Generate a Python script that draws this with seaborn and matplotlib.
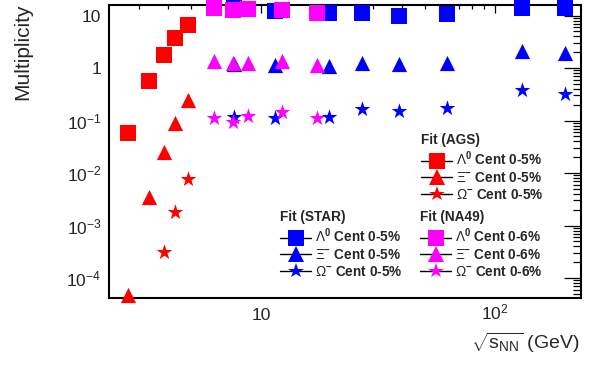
import numpy as np
import pandas as pd
import matplotlib
matplotlib.use("Agg")
import matplotlib.pyplot as plt
import seaborn as sns
from matplotlib.lines import Line2D
from matplotlib.ticker import FixedLocator, FixedFormatter, NullFormatter

# ---------------- data ----------------
ags_energy = [2.7, 3.32, 3.84, 4.3, 4.86]
ags_lambda = [0.058, 0.565, 1.77, 3.73, 6.6]
ags_xi = [4.8e-5, 0.0035, 0.0255, 0.0916, 0.251]
ags_omega_energy = [3.84, 4.3, 4.86]
ags_omega = [3.1e-4, 0.00183, 0.0077]

star_energy = [7.7, 11.5, 19.6, 27, 39, 62.4, 130, 200]
star_lambda = [15.2, 12.3, 11.0, 11.2, 9.8, 10.7, 14.2, 14.2]
star_xi = [1.19, 1.12, 1.09, 1.27, 1.19, 1.27, 2.11, 1.97]
star_omega = [0.117, 0.112, 0.117, 0.166, 0.152, 0.173, 0.381, 0.32]

na49_energy = [6.3, 7.6, 8.8, 12.3, 17.3]
na49_lambda = [13.9, 12.9, 13.4, 12.9, 11.3]
na49_xi = [1.36, 1.25, 1.27, 1.36, 1.12]
na49_omega = [0.112, 0.094, 0.122, 0.145, 0.112]

x_ticks = [10, 100]
x_ticklabels = ["10", r"$10^{2}$"]
y_ticks = [1e-4, 1e-3, 1e-2, 1e-1, 1, 10]
y_ticklabels = [r"$10^{-4}$", r"$10^{-3}$", r"$10^{-2}$", r"$10^{-1}$", "1", "10"]

# ---------------- style ----------------
sns.set_style("white")
plt.rcParams['font.family'] = ['Liberation Sans', 'DejaVu Sans']
plt.rcParams['mathtext.fontset'] = 'custom'
plt.rcParams['mathtext.rm'] = 'Liberation Sans'
plt.rcParams['mathtext.it'] = 'Liberation Sans:italic'
plt.rcParams['mathtext.bf'] = 'Liberation Sans:bold'

colors = {"AGS": "#ff0000", "STAR": "#0000ff", "NA49": "#ff00ff"}
markers = {"Lambda": "s", "Xi": "^", "Omega": "*"}
sizes = {"Lambda": 125, "Xi": 120, "Omega": 140}

records = []
def add(exp, particle, en, vals):
    for e, v in zip(en, vals):
        records.append({"experiment": exp, "particle": particle, "energy": e, "mult": v})

add("STAR", "Lambda", star_energy, star_lambda)
add("STAR", "Xi", star_energy, star_xi)
add("STAR", "Omega", star_energy, star_omega)
add("NA49", "Lambda", na49_energy, na49_lambda)
add("NA49", "Xi", na49_energy, na49_xi)
add("NA49", "Omega", na49_energy, na49_omega)
add("AGS", "Lambda", ags_energy, ags_lambda)
add("AGS", "Xi", ags_energy, ags_xi)
add("AGS", "Omega", ags_omega_energy, ags_omega)
df = pd.DataFrame(records)

W, H = 603, 367
fig = plt.figure(figsize=(W / 100, H / 100), dpi=100)
L, R, T, B = 109, 581, 5, 298
ax = fig.add_axes([L / W, (H - B) / H, (R - L) / W, (B - T) / H])
ax.set_xscale('log')
ax.set_yscale('log')

for exp in ["STAR", "NA49", "AGS"]:
    for particle in ["Lambda", "Xi", "Omega"]:
        sub = df[(df.experiment == exp) & (df.particle == particle)]
        sns.scatterplot(data=sub, x="energy", y="mult", marker=markers[particle],
                        color=colors[exp], s=sizes[particle], linewidth=0,
                        clip_on=False, zorder=5, ax=ax, legend=False)

ax.set_xlim(2.24, 233)
ax.set_ylim(4.16e-5, 15.85)
ax.set_xlabel("")
ax.set_ylabel("")

# ticks
ax.xaxis.set_major_locator(FixedLocator(x_ticks))
ax.xaxis.set_major_formatter(FixedFormatter(x_ticklabels))
xminor = [3, 4, 5, 6, 7, 8, 9, 20, 30, 40, 50, 60, 70, 80, 90, 200]
ax.xaxis.set_minor_locator(FixedLocator(xminor))
ax.xaxis.set_minor_formatter(NullFormatter())
ax.yaxis.set_major_locator(FixedLocator(y_ticks))
ax.yaxis.set_major_formatter(FixedFormatter(y_ticklabels))
yminor = [m * 10.0 ** d for d in range(-5, 2) for m in range(2, 10)]
ax.yaxis.set_minor_locator(FixedLocator(yminor))
ax.yaxis.set_minor_formatter(NullFormatter())

ax.tick_params(axis='both', which='both', direction='in', top=True, right=True,
               width=0.9, color='black')
ax.tick_params(axis='x', which='major', length=5.5, labelsize=12.5, pad=15.5)
ax.tick_params(axis='x', which='minor', length=2.8)
ax.tick_params(axis='y', which='major', length=12, labelsize=12.5, pad=5.5)
ax.tick_params(axis='y', which='minor', length=5.8)
for lab in ax.get_xticklabels():
    lab.set_va('baseline')
for lab in ax.get_yticklabels():
    lab.set_va('center_baseline')

for s in ax.spines.values():
    s.set_linewidth(1.5)
    s.set_color('black')
    s.set_zorder(2)

fig.text(23 / W, 1 - 4 / H, "Multiplicity", rotation=90, ha='center', va='top', fontsize=15)
fig.text(580 / W, 1 - 343 / H, r"$\sqrt{\mathrm{s}_{\mathrm{NN}}}$ (GeV)", ha='right',
         va='center', fontsize=14)

# legends
def handle(marker, color, ms):
    return Line2D([0], [0], color='black', lw=1.0, marker=marker, markerfacecolor=color,
                  markeredgecolor=color, markeredgewidth=0, markersize=ms)

def make_legend(title, color, cent, x, y):
    hs = [handle('s', color, 11.2), handle('^', color, 11), handle('*', color, 11.5)]
    labels = [r"$\Lambda^{\mathbf{0}}$ Cent " + cent,
              r"$\Xi^{\mathbf{-}}$ Cent " + cent,
              r"$\Omega^{\mathbf{-}}$ Cent " + cent]
    leg = fig.legend(hs, labels, loc='upper left', bbox_to_anchor=(x / W, 1 - y / H),
                     bbox_transform=fig.transFigure, frameon=False, borderpad=0,
                     borderaxespad=0, title=title, alignment='left',
                     title_fontproperties={'weight': 'bold', 'size': 9.8},
                     prop={'weight': 'bold', 'size': 9.8}, handlelength=2.3,
                     handletextpad=0.25, labelspacing=0.2)
    return leg

make_legend("Fit (AGS)", colors["AGS"], "0-5%", 421, 133)
make_legend("Fit (STAR)", colors["STAR"], "0-5%", 280, 210)
make_legend("Fit (NA49)", colors["NA49"], "0-6%", 420, 210)

fig.savefig("out.png", dpi=100)
